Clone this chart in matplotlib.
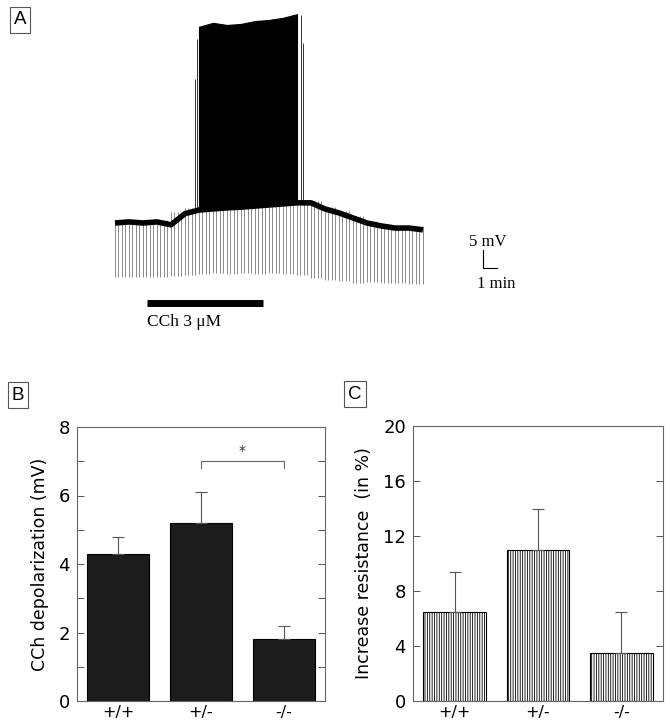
import matplotlib
matplotlib.use("Agg")
import matplotlib.pyplot as plt
import numpy as np

# ---- panel A: recording (time in min, voltage in mV) ----
trace_min = np.arange(0, 23)
baseline_mv = [0.0, 0.3, 0.0, 0.3, -0.5, 2.6, 3.6, 3.9, 4.2, 4.4, 4.7, 5.0,
               5.3, 5.6, 5.6, 3.9, 2.8, 1.4, 0.0, -0.8, -1.4, -1.4, -1.9]
pulse_bottom_mv = [-15.0, -15.0, -15.0, -15.0, -14.7, -14.4, -14.2, -14.0,
                   -14.2, -14.0, -14.2, -14.0, -14.2, -14.4, -15.3, -15.8,
                   -16.2, -16.7, -16.4, -16.7, -16.7, -17.0, -16.7]
pulse_every = 0.25  # min between hyperpolarizing pulses

spike_min = [6, 7, 8, 9, 10, 11, 12, 13]
spike_top_mv = [54.5, 55.6, 55.0, 55.3, 56.1, 56.4, 57.0, 58.0]
edge_spike_min = [5.7, 5.85, 13.3, 13.45]
edge_spike_top = [40.0, 51.0, 57.8, 50.0]
edge_spike_base = [2.9, 3.3, 6.5, 6.0]

drug_on, drug_off = 2.3, 10.6
drug_label = "CCh 3 \u03bcM"

# ---- panels B and C ----
genotypes = ["+/+", "+/-", "-/-"]
depol_mean = [4.3, 5.2, 1.8]
depol_sem = [0.5, 0.9, 0.4]
resist_mean = [6.5, 11.0, 3.5]
resist_sem = [2.9, 3.0, 3.0]
sig_pair = (1, 2)
sig_y = 7.0

W, H = 670, 720
fig = plt.figure(figsize=(W / 100, H / 100), dpi=100)
fig.patch.set_facecolor("white")

def px_axes(left, top, right, bottom):
    return fig.add_axes([left / W, 1 - bottom / H, (right - left) / W, (bottom - top) / H])

box = dict(boxstyle="square,pad=0.22", fc="white", ec="#555555", lw=0.8)
for lab, x, y in [("A", 20, 20), ("B", 18, 395), ("C", 355, 394)]:
    fig.text(x / W, 1 - y / H, lab, fontsize=13.5, family="Liberation Sans",
             ha="center", va="center", bbox=box)

# ---- A ----
axA = px_axes(100, 0, 520, 340)
axA.set_xlim(-15 / 14, 28.93)
axA.set_ylim(-32.5, 61.94)
axA.axis("off")

pulse_t = np.arange(0, 22.01, pulse_every)
idx = np.minimum(pulse_t.astype(int), len(baseline_mv) - 2)
base = np.array(baseline_mv)
tops = np.maximum(base[idx], base[idx + 1]) + 0.5
bottoms = np.array(pulse_bottom_mv)[idx]
axA.vlines(pulse_t, bottoms, tops, color="#8a8a8a", lw=0.7, zorder=1)

s0, s1 = spike_min[0], spike_min[-1] + 1
axA.fill_between(spike_min, baseline_mv[s0:s1], spike_top_mv, color="black",
                 lw=0.8, zorder=2)
axA.vlines(edge_spike_min, edge_spike_base, edge_spike_top, color="#333333",
           lw=0.7, zorder=2)
axA.plot(trace_min, baseline_mv, color="black", lw=4, solid_capstyle="butt", zorder=3)

axA.plot([drug_on, drug_off], [-22.2, -22.2], color="black", lw=5,
         solid_capstyle="butt")
axA.text(drug_on, -27.6, drug_label, fontsize=12.5, family="Liberation Serif",
         ha="left", va="center")

axA.plot([26.3, 26.3, 27.3], [-7.5, -12.5, -12.5], color="black", lw=0.8)
axA.text(26.6, -5.3, "5 mV", fontsize=12, family="Liberation Serif",
         ha="center", va="center")
axA.text(27.2, -16.9, "1 min", fontsize=12, family="Liberation Serif",
         ha="center", va="center")

x = np.arange(len(genotypes))

def style_axis(ax, ymax, step, minor):
    ax.set_xlim(-0.5, 2.5)
    ax.set_ylim(0, ymax)
    ax.set_yticks(np.arange(0, ymax + 0.1, step))
    if minor:
        ax.set_yticks(np.arange(step / 2, ymax, step), minor=True)
    ax.set_xticks(x)
    ax.set_xticklabels(genotypes, fontsize=11.5)
    ax.tick_params(axis="x", length=0, pad=3)
    ax.tick_params(axis="y", which="both", direction="in", right=True,
                   length=5, width=0.7, color="#555555", labelsize=13, pad=5)
    for sp in ax.spines.values():
        sp.set_color("#666666")
        sp.set_linewidth(0.8)

# ---- B ----
axB = px_axes(77, 427, 325, 701)
axB.bar(x, depol_mean, width=0.75, color="#1c1c1c", edgecolor="black", lw=0.8,
        yerr=[[0, 0, 0], depol_sem], capsize=4,
        error_kw=dict(ecolor="#555555", elinewidth=0.8, capthick=0.8))
style_axis(axB, 8, 2, True)
axB.set_ylabel("CCh depolarization (mV)", fontsize=12.5, labelpad=7)
a, b = sig_pair
axB.plot([a, a, b, b], [sig_y - 0.2, sig_y, sig_y, sig_y - 0.2],
         color="#666666", lw=0.8)
axB.text((a + b) / 2, sig_y + 0.1, "*", fontsize=10, ha="center", va="bottom",
         color="#333333")

# ---- C ----
plt.rcParams["hatch.linewidth"] = 0.6
axC = px_axes(413, 426, 663, 701)
axC.bar(x, resist_mean, width=0.75, color="white", edgecolor="black", lw=0.8,
        hatch="|||||||", yerr=[[0, 0, 0], resist_sem], capsize=4,
        error_kw=dict(ecolor="#555555", elinewidth=0.8, capthick=0.8))
style_axis(axC, 20, 4, False)
axC.set_ylabel("Increase resistance  (in %)", fontsize=12.5, labelpad=7)

fig.savefig("out.png", dpi=100, facecolor="white")
